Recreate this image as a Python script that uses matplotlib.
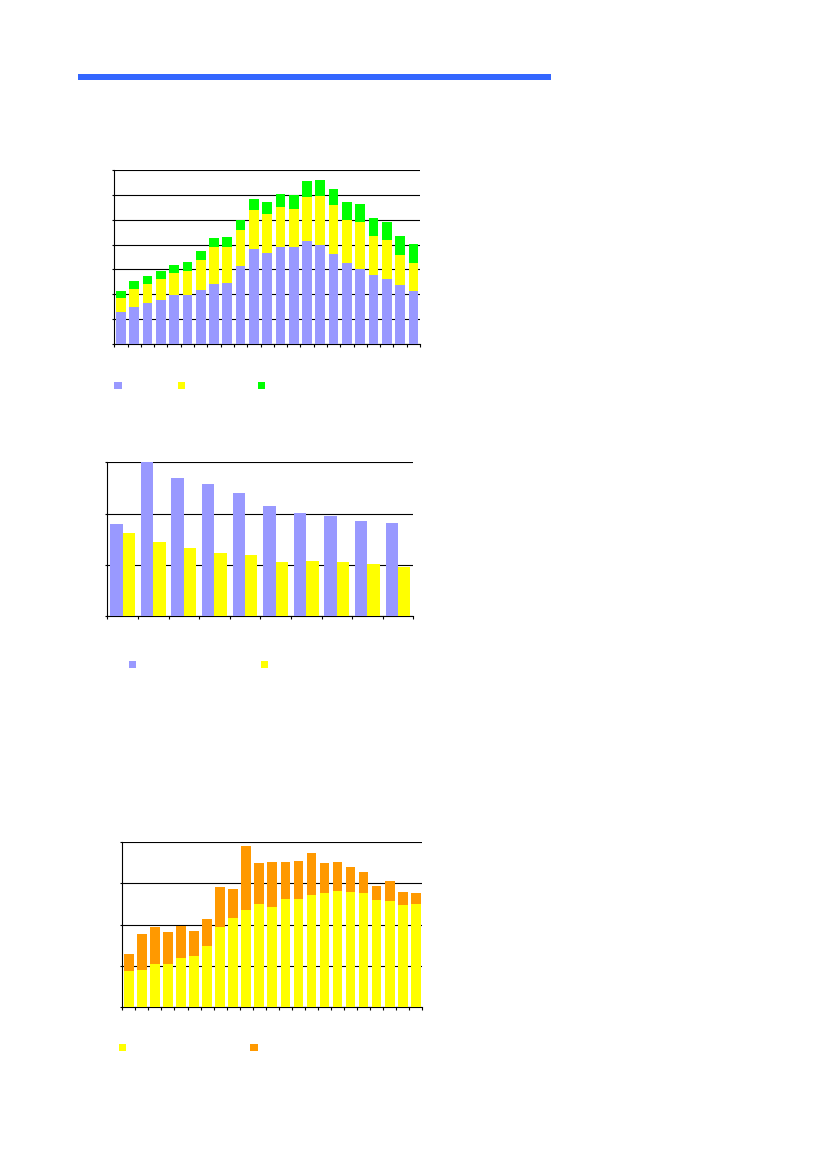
import matplotlib
matplotlib.use("Agg")
import matplotlib.pyplot as plt
from matplotlib.patches import Rectangle
import numpy as np

# ---------------- data ----------------
# Chart 1: stacked (cumulative tops)
c1_blue = [13.0, 15.0, 16.6, 17.8, 19.6, 19.7, 21.9, 24.0, 24.7, 31.2, 38.4, 36.5,
           39.2, 39.2, 41.6, 40.0, 36.3, 32.7, 30.3, 27.9, 26.3, 23.6, 21.5]
c1_yellow_top = [18.6, 22.3, 24.3, 26.3, 28.7, 29.5, 33.8, 39.0, 39.2, 46.0, 54.0, 52.4,
                 55.1, 54.3, 59.3, 59.7, 55.9, 50.0, 49.2, 43.6, 41.7, 35.9, 32.5]
c1_green_top = [21.3, 25.2, 27.4, 29.4, 31.8, 33.0, 37.4, 42.6, 42.9, 50.0, 58.3, 57.1,
                60.3, 59.9, 65.4, 66.0, 62.2, 57.1, 56.3, 50.7, 49.2, 43.4, 40.2]

# Chart 2: grouped
c2_blue = [17.96, 30.0, 26.9, 25.8, 24.0, 21.4, 20.1, 19.45, 18.5, 18.15]
c2_yellow = [16.2, 14.4, 13.3, 12.2, 12.0, 10.5, 10.7, 10.5, 10.15, 9.56]

# Chart 3: stacked
c3_yellow = [8.66, 8.99, 10.36, 10.53, 11.98, 12.47, 14.9, 19.5, 21.7, 23.56, 25.0, 24.37,
             26.2, 26.2, 27.2, 27.8, 28.2, 27.9, 27.7, 26.0, 25.8, 24.7, 25.0]
c3_orange_top = [12.87, 17.73, 19.43, 18.3, 19.6, 18.54, 21.46, 29.15, 28.74, 39.1, 35.06,
                 35.22, 35.14, 35.55, 37.5, 35.06, 35.3, 34.09, 32.87, 29.39, 30.6, 27.94, 27.77]

BLUE = "#9999FF"
YELLOW = "#FFFF00"
GREEN = "#00FF00"
ORANGE = "#FF9900"
HEADER = "#3366FF"

W, H = 826, 1169
fig = plt.figure(figsize=(W / 100, H / 100), dpi=100)
fig.patch.set_facecolor("white")


def ax_at(left, top, right, bottom):
    return fig.add_axes([left / W, 1 - bottom / H, (right - left) / W, (bottom - top) / H])


def style(ax, n, ymax, step):
    ax.set_xlim(-0.5, n - 0.5)
    ax.set_ylim(0, ymax)
    ax.set_yticks(np.arange(0, ymax + 0.01, step))
    ax.set_xticks(np.arange(-0.5, n, 1.0))
    ax.tick_params(axis="x", direction="out", length=2.3, width=0.8, labelbottom=False)
    ax.tick_params(axis="y", direction="out", length=1.8, width=0.8, labelleft=False)
    for s in ["top", "right"]:
        ax.spines[s].set_visible(False)
    for s in ["left", "bottom"]:
        ax.spines[s].set_linewidth(0.8)
        ax.spines[s].set_color("black")
    ax.yaxis.grid(True, color="black", linewidth=0.8)
    ax.set_axisbelow(True)
    ax.set_facecolor("none")


def legend_square(x, y, color, size=7.5):
    fig.add_artist(Rectangle(((x - size / 2) / W, 1 - (y + size / 2) / H), size / W, size / H,
                             transform=fig.transFigure, facecolor=color, edgecolor="none"))


# header line
fig.add_artist(Rectangle((78 / W, 1 - 79.7 / H), (550.7 - 78) / W, 6 / H,
                         transform=fig.transFigure, facecolor=HEADER, edgecolor="none"))

# ---------------- chart 1 ----------------
ax1 = ax_at(114.3, 170, 420, 344)
n1 = len(c1_blue)
x1 = np.arange(n1)
b = np.array(c1_blue)
yt = np.array(c1_yellow_top)
gt = np.array(c1_green_top)
ax1.bar(x1, b, width=0.73, color=BLUE, zorder=3)
ax1.bar(x1, yt - b, bottom=b, width=0.73, color=YELLOW, zorder=3)
ax1.bar(x1, gt - yt, bottom=yt, width=0.73, color=GREEN, zorder=3)
style(ax1, n1, 70, 10)
legend_square(118, 385.3, BLUE)
legend_square(181.3, 385.3, YELLOW)
legend_square(261.3, 385.3, GREEN)

# ---------------- chart 2 ----------------
ax2 = ax_at(107.3, 462.3, 413.3, 616)
n2 = len(c2_blue)
x2 = np.arange(n2)
ax2.bar(x2 - 0.2015, c2_blue, width=0.403, color=BLUE, zorder=3)
ax2.bar(x2 + 0.2015, c2_yellow, width=0.403, color=YELLOW, zorder=3)
style(ax2, n2, 30, 10)
legend_square(132.7, 664.3, BLUE)
legend_square(264.3, 664.3, YELLOW)

# ---------------- chart 3 ----------------
ax3 = ax_at(122.3, 842.3, 422.3, 1007)
n3 = len(c3_yellow)
x3 = np.arange(n3)
y3 = np.array(c3_yellow)
o3 = np.array(c3_orange_top)
ax3.bar(x3, y3, width=0.74, color=YELLOW, zorder=3)
ax3.bar(x3, o3 - y3, bottom=y3, width=0.74, color=ORANGE, zorder=3)
style(ax3, n3, 40, 10)
legend_square(122.3, 1047.7, YELLOW)
legend_square(254, 1047.7, ORANGE)

fig.savefig("out.png", dpi=100, facecolor="white")
